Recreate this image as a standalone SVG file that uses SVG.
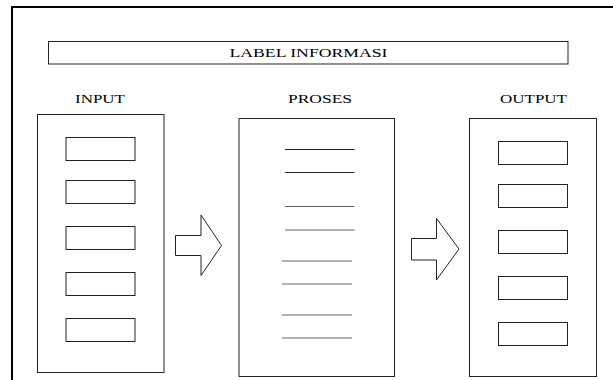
<svg xmlns="http://www.w3.org/2000/svg" width="613" height="380" viewBox="0 0 613 380">
  <style>
    .frame { fill: none; stroke: #000; stroke-width: 2; }
    .box { fill: #fff; stroke: #222; stroke-width: 1; }
    .field { fill: #fff; stroke: #222; stroke-width: 1; }
    .rule { stroke: #222; stroke-width: 1; }
    .rule-soft { stroke: #666; stroke-width: 1.2; }
    .arrow { fill: #fff; stroke: #222; stroke-width: 1; stroke-linejoin: miter; }
    .label { font-family: "Liberation Serif", "Times New Roman", serif; font-size: 12px; fill: #000; text-anchor: middle; }
  </style>
  <rect width="613" height="380" fill="#fff"/>

  <!-- page frame: left and top edges -->
  <path class="frame" d="M12,380 V7 H613"/>

  <g id="label-informasi">
    <rect class="box" x="48.5" y="41.5" width="519.5" height="22.5"/>
    <text class="label" x="308.5" y="56.5" textLength="158" lengthAdjust="spacingAndGlyphs">LABEL INFORMASI</text>
  </g>

  <g id="input">
    <text class="label" x="100" y="102.5" textLength="50" lengthAdjust="spacingAndGlyphs">INPUT</text>
    <rect class="box" x="37.5" y="114.5" width="126.5" height="258"/>
    <rect class="field" x="66" y="137.5" width="69" height="23"/>
    <rect class="field" x="66" y="180.5" width="69" height="23"/>
    <rect class="field" x="66" y="226.5" width="69" height="23"/>
    <rect class="field" x="66" y="272.5" width="69" height="23"/>
    <rect class="field" x="66" y="318.5" width="69" height="23"/>
  </g>

  <g id="proses">
    <text class="label" x="320" y="102.5" textLength="64" lengthAdjust="spacingAndGlyphs">PROSES</text>
    <rect class="box" x="239" y="118.5" width="155.5" height="258"/>
    <line class="rule" x1="285" y1="149.5" x2="354.5" y2="149.5"/>
    <line class="rule" x1="285" y1="172.5" x2="354.5" y2="172.5"/>
    <line class="rule-soft" x1="285" y1="206.5" x2="354.5" y2="206.5"/>
    <line class="rule-soft" x1="285" y1="230" x2="354.5" y2="230"/>
    <line class="rule-soft" x1="282" y1="261" x2="352" y2="261"/>
    <line class="rule-soft" x1="282" y1="284" x2="352" y2="284"/>
    <line class="rule-soft" x1="282" y1="315" x2="352" y2="315"/>
    <line class="rule-soft" x1="282" y1="338" x2="352" y2="338"/>
  </g>

  <g id="output">
    <text class="label" x="533.5" y="102.5" textLength="67" lengthAdjust="spacingAndGlyphs">OUTPUT</text>
    <rect class="box" x="469.5" y="118.5" width="127" height="258"/>
    <rect class="field" x="498.5" y="141.5" width="69" height="23"/>
    <rect class="field" x="498.5" y="184.5" width="69" height="23"/>
    <rect class="field" x="498.5" y="230.5" width="69" height="23"/>
    <rect class="field" x="498.5" y="276.5" width="69" height="23"/>
    <rect class="field" x="498.5" y="322.5" width="69" height="23"/>
  </g>

  <g id="connectors">
    <path class="arrow" d="M175.5,235.5 H201 V215 L221.5,245.5 L201,275.5 V255.5 H175.5 Z"/>
    <path class="arrow" d="M411.5,238.5 H436.5 V218.5 L459,249 L436.5,280 V260 H411.5 Z"/>
  </g>
</svg>
